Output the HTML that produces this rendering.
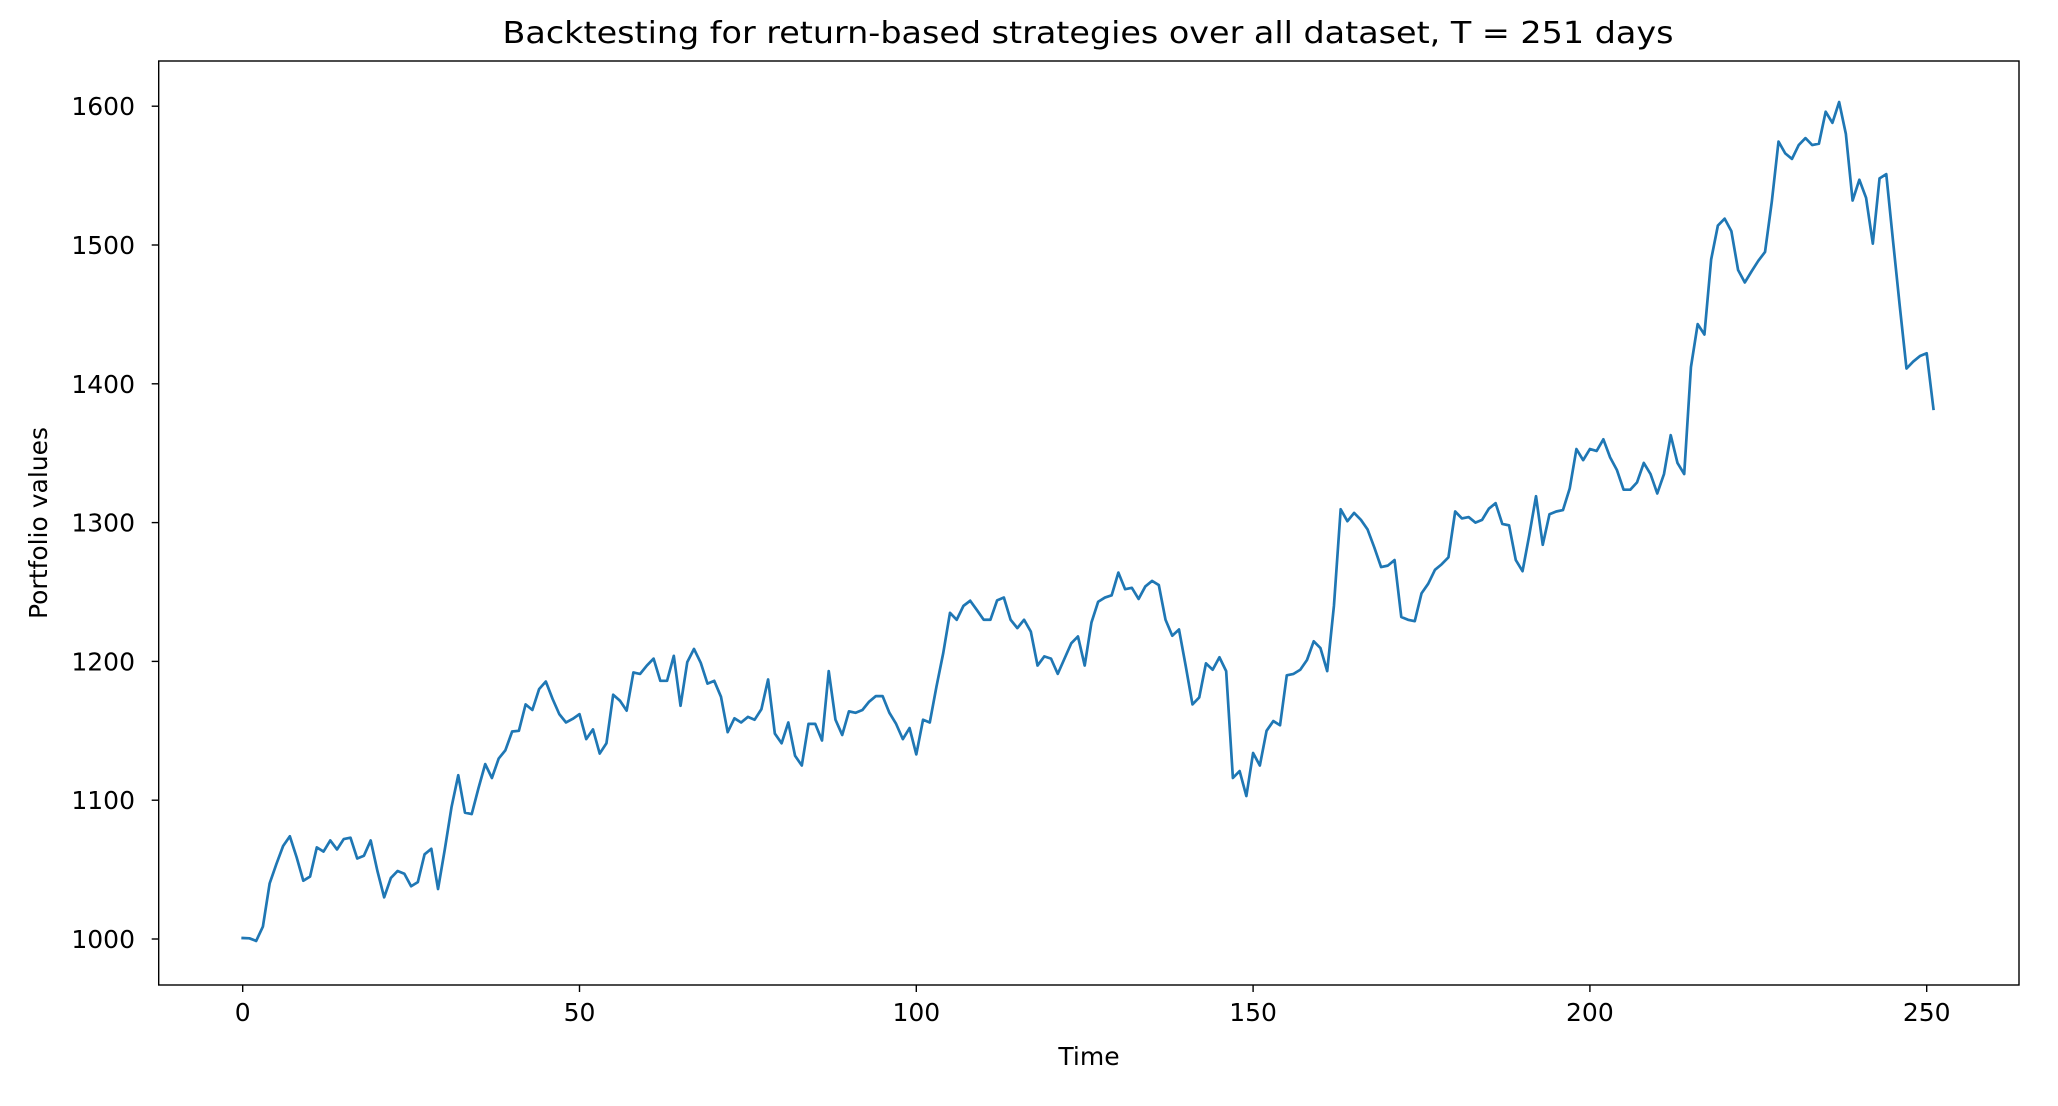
<!DOCTYPE html>
<html><head><meta charset="utf-8"><style>
html,body{margin:0;padding:0;background:#fff;}
svg{display:block;font-family:"DejaVu Sans","Liberation Sans",sans-serif;}
</style></head><body>
<svg id="chart" width="2058" height="1106" viewBox="0 0 2058 1106">
<rect x="0" y="0" width="2058" height="1106" fill="#fff"/>
<text x="1088" y="43" text-anchor="middle" font-size="30" textLength="1171" lengthAdjust="spacingAndGlyphs" fill="#000">Backtesting for return-based strategies over all dataset, T = 251 days</text>
<g id="series"></g>
<g id="axes"></g>
<text x="1089" y="1065" text-anchor="middle" font-size="25" fill="#000">Time</text>
<text x="0" y="0" transform="translate(47,523) rotate(-90)" text-anchor="middle" font-size="25" fill="#000">Portfolio values</text>
</svg>
<script>
const portfolioValues = [1000.7,1000.5,998.6,1009,1040,1054,1067,1074,1059,1042,1045,1066,1063,1071,1064.5,1072,1073,1058,1060,1071,1049,1030,1044,1049,1047,1038,1041,1061,1065,1036,1064.5,1095,1118,1091,1090,1108.6,1126,1116,1130,1136,1149.5,1150,1169,1165,1180,1185.5,1173,1162,1156,1158.6,1162,1144,1151,1133.6,1141,1176,1171.7,1164.5,1192,1191,1197,1202,1186,1186,1204,1168,1199.5,1209,1199,1184,1186,1174.6,1149,1159,1156,1160,1158,1165.5,1187,1148,1141,1156,1132,1125,1155,1155,1143,1193,1158,1147,1164,1163,1165,1171,1175,1175,1163,1155,1144,1152,1133,1158,1156,1182,1206,1235,1230,1240,1243.7,1237,1230,1230,1244,1246,1230,1224,1230,1221.5,1197,1203.6,1202,1191,1202,1213,1218,1197,1228,1243,1246,1247.6,1264,1252,1253,1245,1254,1258,1255,1230,1218.5,1223,1196.6,1169,1174,1198.6,1194,1203,1193,1116,1121,1103,1134,1125,1150,1157,1154,1190,1191,1194,1201,1214.5,1209.6,1193,1240,1309.6,1301,1307,1302,1295,1282,1268,1269,1273,1232,1230,1229,1249,1256,1266,1270,1275,1308,1303,1304,1300,1302,1310,1314,1299,1298,1273,1265,1291,1319,1284,1306,1308,1309,1324.5,1353,1345,1353,1351.6,1360,1347,1338,1323.7,1323.7,1329,1343,1335,1321,1335,1363,1343,1335,1412,1443,1435.5,1489.6,1514,1519,1510,1482,1473,1481,1488.6,1495,1531,1574.5,1566,1562,1572,1577,1572,1573,1596,1588,1603,1580,1532,1547,1534,1501,1548,1551,1503,1456,1411,1416,1420,1422,1382];
const xTicks = [0,50,100,150,200,250];
const yTicks = [1000,1100,1200,1300,1400,1500,1600];

const NS = "http://www.w3.org/2000/svg";
const L = 158.7, R = 2019, T = 61, B = 985;
function xScale(i){ return 242.7 + i * 6.736; }
function yScale(v){ return 939 - (v - 1000) * 1.388; }

const series = document.getElementById('series');
let d = '';
portfolioValues.forEach((v, i) => { d += (i ? 'L' : 'M') + xScale(i).toFixed(2) + ',' + yScale(v).toFixed(2); });
const path = document.createElementNS(NS, 'path');
path.setAttribute('d', d);
path.setAttribute('fill', 'none');
path.setAttribute('stroke', '#1f77b4');
path.setAttribute('stroke-width', '2.7');
path.setAttribute('stroke-linejoin', 'round');
path.setAttribute('stroke-linecap', 'square');


series.appendChild(path);

const axes = document.getElementById('axes');
const frame = document.createElementNS(NS, 'rect');
frame.setAttribute('x', L); frame.setAttribute('y', T);
frame.setAttribute('width', R - L); frame.setAttribute('height', B - T);
frame.setAttribute('fill', 'none'); frame.setAttribute('stroke', '#000'); frame.setAttribute('stroke-width', '1.4');


axes.appendChild(frame);

xTicks.forEach(t => {
  const x = xScale(t);
  const ln = document.createElementNS(NS, 'line');
  ln.setAttribute('x1', x); ln.setAttribute('x2', x); ln.setAttribute('y1', B); ln.setAttribute('y2', B + 7);
  ln.setAttribute('stroke', '#000'); ln.setAttribute('stroke-width', '1.4');
  
  
  axes.appendChild(ln);
  const tx = document.createElementNS(NS, 'text');
  tx.setAttribute('x', x); tx.setAttribute('y', B + 36);
  tx.setAttribute('text-anchor', 'middle'); tx.setAttribute('font-size', '25');
  tx.textContent = t;
  
  
  axes.appendChild(tx);
});
yTicks.forEach(t => {
  const y = yScale(t);
  const ln = document.createElementNS(NS, 'line');
  ln.setAttribute('x1', L - 7); ln.setAttribute('x2', L); ln.setAttribute('y1', y); ln.setAttribute('y2', y);
  ln.setAttribute('stroke', '#000'); ln.setAttribute('stroke-width', '1.4');
  
  
  axes.appendChild(ln);
  const tx = document.createElementNS(NS, 'text');
  tx.setAttribute('x', 135); tx.setAttribute('y', y + 9);
  tx.setAttribute('text-anchor', 'end'); tx.setAttribute('font-size', '25');
  tx.textContent = t;
  
  
  axes.appendChild(tx);
});
</script>
</body></html>
